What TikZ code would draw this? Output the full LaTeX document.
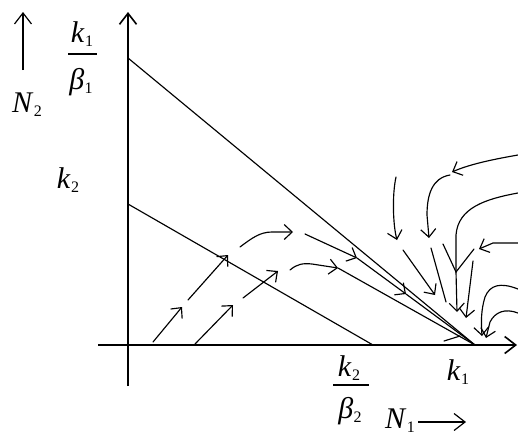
\documentclass[tikz,border=0pt]{standalone}
\usepackage{fontspec}
\setmainfont{Liberation Serif}
\usetikzlibrary{arrows.meta}
\newcommand{\sublab}[2]{\textit{#1}\kern0.5pt\raisebox{-4.5pt}{\fontsize{16}{18}\selectfont #2}}
\tikzset{
  traj/.style={line width=1.15pt, line cap=round, line join=round},
  arr/.style={traj, -{Straight Barb[length=8pt,width=15pt]}},
  axis/.style={line width=1.6pt, -{Straight Barb[length=11pt,width=17pt]}},
  lab/.style={inner sep=0pt, anchor=base, font=\fontsize{30}{34}\selectfont},
  fbar/.style={line width=1.1pt}
}
\begin{document}
\begin{tikzpicture}[x=1pt,y=-1pt]
\useasboundingbox (0,0) rectangle (518,437);
% key points
\coordinate (O) at (128,345);
\coordinate (K1) at (475,345);
\coordinate (K2B2) at (373,345);
\coordinate (K1B1) at (128,58);
\coordinate (K2) at (128,204);
% axes
\draw[axis] (128,386) -- (128,12);
\draw[axis] (98,345) -- (517,345);
% isoclines
\draw[traj] (K1B1) -- (K1);
\draw[traj] (K2) -- (K2B2);
% side arrows
\draw[axis, line width=1.2pt] (23,70) -- (23,12);
\draw[axis, line width=1.2pt] (418,422) -- (466,422);
% labels
\node[lab] (kbnum) at (82,42) {\sublab{k}{1}};
\draw[fbar] (68,54) -- (97,54);
\node[lab] (kbden) at (81,89) {\sublab{β}{1}};
\node[lab] (k2) at (68,188) {\sublab{k}{2}};
\node[lab] (n2) at (27,112) {\sublab{N}{2}};
\node[lab] (kcnum) at (349,376) {\sublab{k}{2}};
\draw[fbar] (333,385) -- (369,385);
\node[lab] (kcden) at (350,418) {\sublab{β}{2}};
\node[lab] (k1) at (458,380) {\sublab{k}{1}};
\node[lab] (n1) at (400,428) {\sublab{N}{1}};
% left trajectories
\draw[arr] (153,342) -- (182,307);
\draw[arr] (188,300) -- (228,255);
\draw[arr] (240,247) .. controls (252,238) and (260,232) .. (272,232) -- (293,232);
\draw[arr] (305,234) -- (357,258);
\draw[arr] (357,258) -- (406,294);
\draw[traj] (406,294) -- (K1);
\draw[arr] (195,344) -- (233,305);
\draw[arr] (243,298) -- (278,271);
\draw[arr] (290,270) .. controls (297,264) and (303,263) .. (312,264) -- (338,268);
\draw[traj] (338,268) -- (K1);
% right trajectories
\draw[arr] (396,177) .. controls (392,195) and (393,225) .. (397,240);
\draw[arr] (403,250) -- (435,295);
\draw[arr] (518,155) .. controls (495,159) and (470,164) .. (452,172);
\draw[arr] (450,175) .. controls (432,178) and (427,195) .. (427,215) -- (429,238);
\draw[traj] (431,248) -- (446,302);
\draw[traj] (518,193) .. controls (485,199) and (458,208) .. (456,235) -- (456,272);
\draw[arr] (456,272) -- (457,312);
\draw[traj] (443,244) -- (456,272);
\draw[arr] (518,243) -- (493,243) -- (479,249);
\draw[traj] (474,249) -- (456,272);
\draw[arr] (473,261) -- (466,318);
\draw[arr] (518,289) .. controls (500,282) and (490,285) .. (485,297) .. controls (481,310) and (481,322) .. (482,336);
\draw[arr] (518,313) .. controls (505,308) and (495,312) .. (490,322) -- (486,338);
\draw[traj] (444,341) -- (460,336);
\end{tikzpicture}
\end{document}
